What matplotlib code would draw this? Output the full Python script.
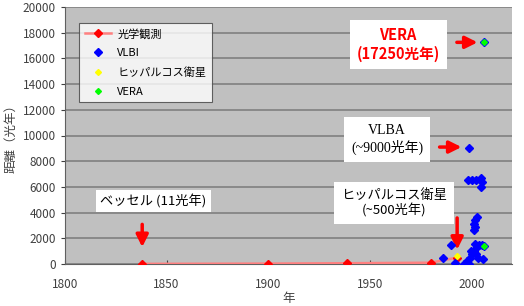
import matplotlib
matplotlib.use('Agg')
import matplotlib.pyplot as plt

plt.rcParams['font.family'] = ['Noto Sans CJK JP', 'DejaVu Sans']

# Datos
opt_year = [1838, 1900, 1939, 1980, 1993]
opt_dist = [11, 30, 60, 100, 500]

vlbi_year = [1986, 1990, 1992, 1999,
             1998.5, 2000.5, 2002.5, 2004.5, 2005, 2004.5,
             2003, 2002, 2001.5, 2002, 2001.5,
             1996.5, 1998, 1999.5, 2000.5, 2001.5, 2003, 2004, 2002, 2005,
             2005.5, 2003.5, 1999, 2000, 2002.5, 2006, 2006]
vlbi_dist = [450, 1500, 50, 9000,
             6500, 6500, 6500, 6700, 6400, 6000,
             3650, 3400, 3150, 2850, 2650,
             0, 250, 500, 750, 1050, 1300, 1500, 1550, 1450,
             400, 500, 0, 1000, 800, 1400, 17250]

hip_year = [1993]
hip_dist = [600]

vera_year = [2006, 2006]
vera_dist = [1400, 17250]

fig = plt.figure(figsize=(5.24, 3.06), dpi=100)
ax = fig.add_axes([65 / 524, 1 - 264 / 306, (512 - 65) / 524, (264 - 7) / 306])
ax.set_facecolor('#c0c0c0')

ax.plot(opt_year, opt_dist, color='#ff8080', lw=1.8, marker='D', ms=4.5,
        mfc='red', mec='red', label='光学観測', zorder=3)
ax.plot(vlbi_year, vlbi_dist, ls='none', marker='D', ms=4.5, color='blue',
        label='VLBI', zorder=4)
ax.plot(hip_year, hip_dist, ls='none', marker='D', ms=3, color='yellow',
        label='ヒッパルコス衛星', zorder=5)
ax.plot(vera_year, vera_dist, ls='none', marker='D', ms=3, color='#00ff00',
        label='VERA', zorder=5)

ax.set_xlim(1800, 2020)
ax.set_ylim(0, 20000)
ax.set_xticks([1800, 1850, 1900, 1950, 2000])
ax.set_yticks(range(0, 20001, 2000))
ax.yaxis.grid(True, color='#808080', lw=1.2)
ax.set_axisbelow(True)
ax.tick_params(labelsize=8.5, colors='#404040', length=3)
ax.tick_params(axis='x', direction='in', pad=10)
for s in ['top', 'right']:
    ax.spines[s].set_visible(False)
for s in ['left', 'bottom']:
    ax.spines[s].set_color('#606060')

ax.set_xlabel('年', fontsize=9, color='#404040', labelpad=1)
ax.set_ylabel('距離（光年）', fontsize=9, color='#404040', labelpad=4)

leg = ax.legend(loc='upper left', bbox_to_anchor=(0.02, 0.96), fontsize=8,
                frameon=True, fancybox=False, edgecolor='#404040',
                borderpad=0.5, labelspacing=0.8, handlelength=2.3,
                handletextpad=0.6)
leg.get_frame().set_linewidth(0.8)

box = dict(facecolor='white', edgecolor='none', pad=5)
ax.text(1964, 17100, 'VERA\n(17250光年)', color='red', fontsize=10.5,
        fontweight='bold', ha='center', va='center', bbox=box, linespacing=1.2)
ax.text(1958.5, 9700, 'VLBA\n(~9000光年)', fontsize=10, ha='center',
        va='center', bbox=box, family=['Liberation Serif', 'Noto Sans CJK JP'])
ax.text(1843.5, 4900, 'ベッセル (11光年)', fontsize=9.5, ha='center',
        va='center', bbox=dict(facecolor='white', edgecolor='none', pad=3))
ax.text(1962, 4750, 'ヒッパルコス衛星\n(~500光年)', fontsize=9.5, ha='center',
        va='center', bbox=box, linespacing=1.1)

arrow = dict(arrowstyle='-|>', color='red', lw=2.5, mutation_scale=18)
ax.annotate('', xy=(2004.4, 17250), xytext=(1991.5, 17250), arrowprops=arrow)
ax.annotate('', xy=(1996.5, 9100), xytext=(1983, 9100), arrowprops=arrow)
ax.annotate('', xy=(1838, 1100), xytext=(1838, 3300), arrowprops=arrow)
ax.annotate('', xy=(1993, 900), xytext=(1993, 3800), arrowprops=arrow)

fig.savefig('out.png', dpi=100)
